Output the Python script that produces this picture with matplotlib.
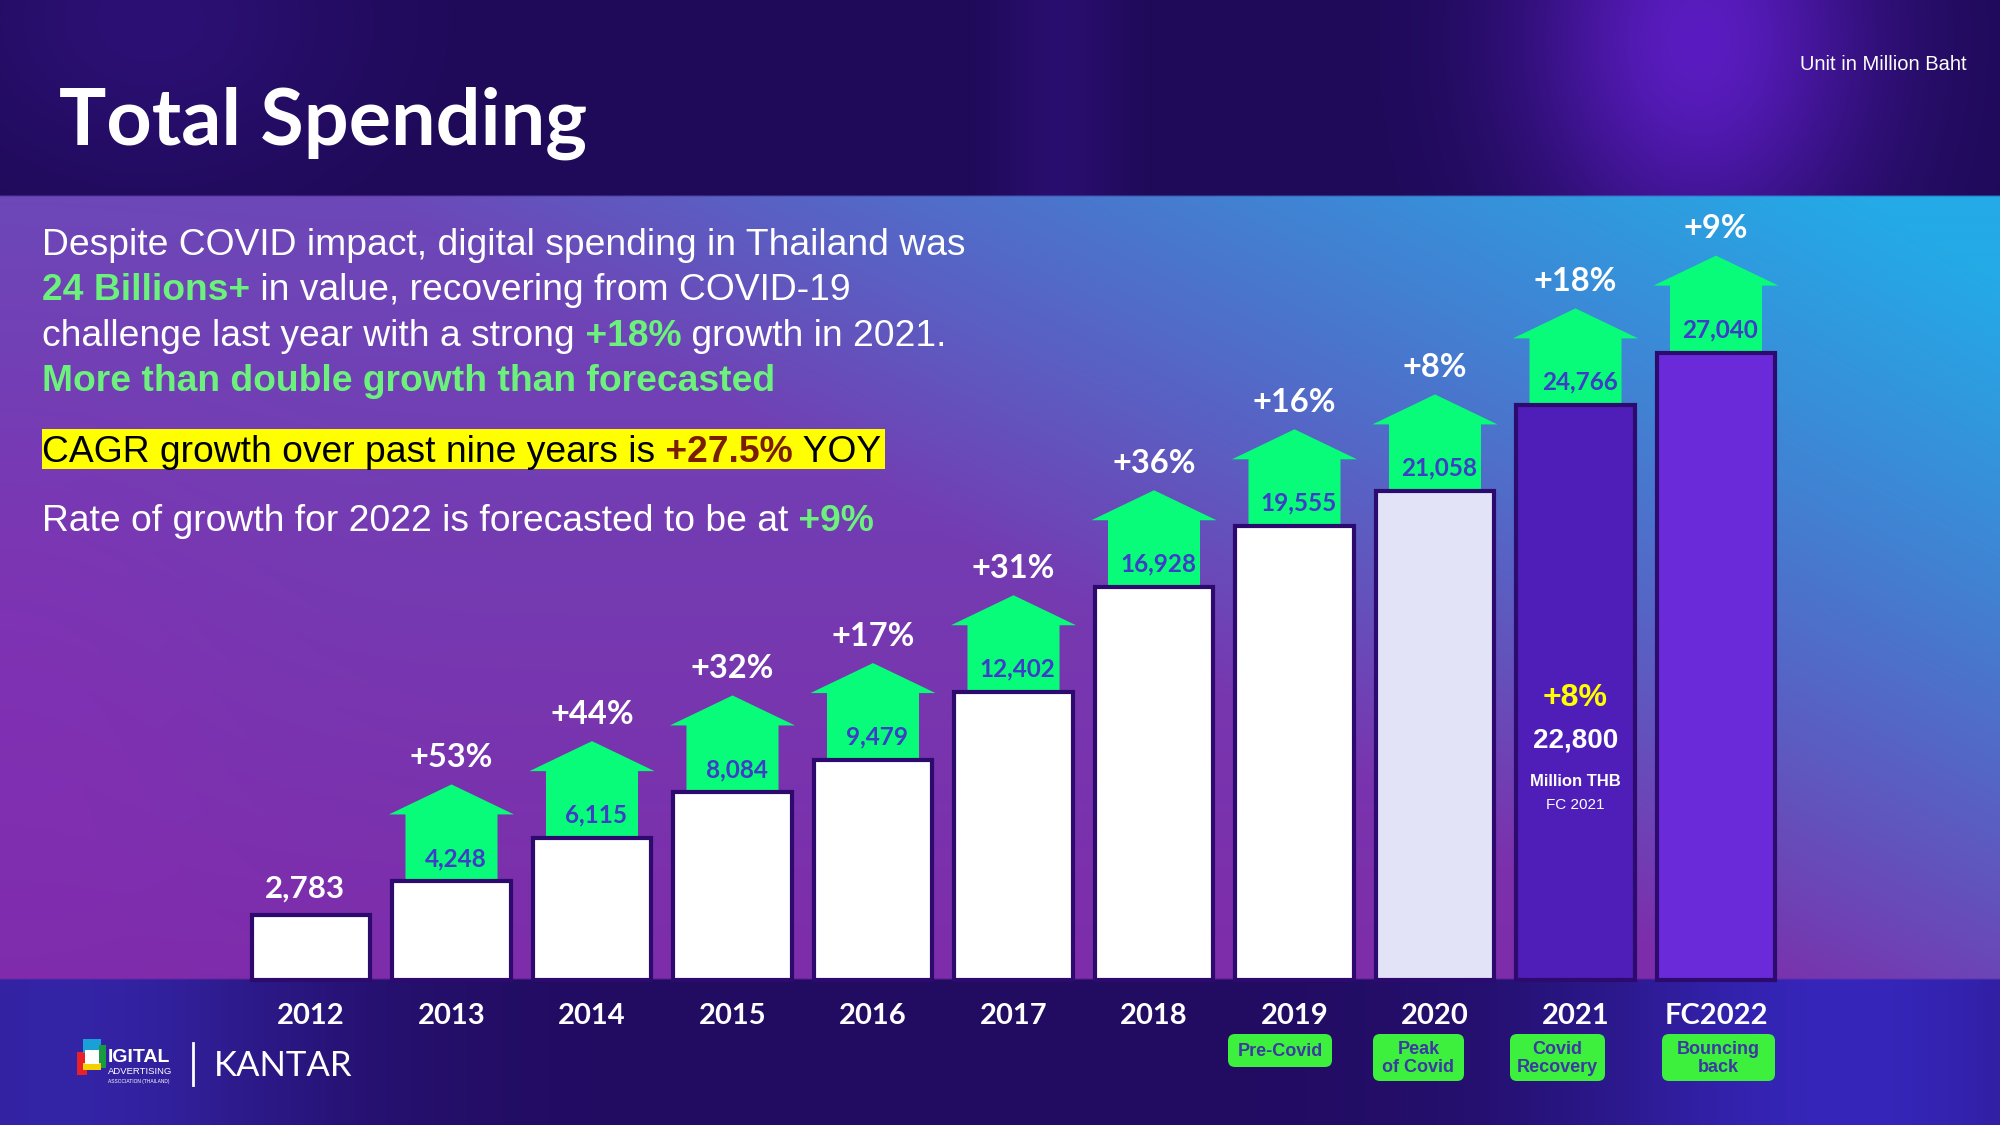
import numpy as np
import matplotlib
matplotlib.use("Agg")
import matplotlib.pyplot as plt
from matplotlib.patches import Polygon, Rectangle, FancyBboxPatch

# ---------------- data ----------------
years = ["2012", "2013", "2014", "2015", "2016", "2017", "2018", "2019", "2020", "2021", "FC2022"]
spending = [2783, 4248, 6115, 8084, 9479, 12402, 16928, 19555, 21058, 24766, 27040]
growth = ["", "+53%", "+44%", "+32%", "+17%", "+31%", "+36%", "+16%", "+8%", "+18%", "+9%"]
phase_years = ["2019", "2020", "2021", "FC2022"]
phase_labels = ["Pre-Covid", "Peak\nof Covid", "Covid\nRecovery", "Bouncing\nback"]
fc2021_growth = "+8%"
fc2021_value = 22800
bar_colors = ["#ffffff"] * 8 + ["#e3e3f7", "#4f1eb8", "#6b2ad9"]

W, H = 2000, 1125
fig = plt.figure(figsize=(20, 11.25), dpi=100)

# ---------------- background ----------------
def c(h):
    h = h.lstrip("#")
    return np.array([int(h[i:i + 2], 16) for i in (0, 2, 4)], float) / 255.0

h, w = 563, 1000
Y = np.linspace(0, H, h)[:, None, None]
X = np.linspace(0, W, w)[None, :, None]
# header
hb = c("#1e0a58") + 0 * X * Y
g1 = np.exp(-((X - 1700) / 170.0) ** 2 - ((Y - 40) / 220.0) ** 2)
g2 = np.exp(-((X - 150) / 200.0) ** 2 - ((Y - 20) / 150.0) ** 2)
g3 = np.exp(-((X - 1060) / 60.0) ** 2)
hb = hb + g1 * (c("#5a1cc0") - c("#1e0a58")) + 0.5 * g2 * (c("#3a1690") - c("#1e0a58")) \
    + 0.4 * g3 * (c("#3c1490") - c("#1e0a58"))
# middle
v = np.clip((Y - 195) / 785.0, 0, 1)
u = X / W
base = c("#6c48b8") * (1 - v) + c("#7e2caa") * v
wt = np.clip(1.35 * u - 0.25 - 0.9 * v, 0, 1)
mb = base * (1 - wt) + c("#24aae6") * wt
gl = np.exp(-((X - 0) / 250.0) ** 2 - ((Y - 700) / 300.0) ** 2)
mb = mb + 0.4 * gl * (c("#8a2ab8") - mb)
# bottom
bb = c("#220c62") + 0 * X * Y
gb1 = np.exp(-((X - 60) / 260.0) ** 2)
gb2 = np.exp(-((X - 1850) / 280.0) ** 2)
bb = bb + gb1 * (c("#3424a6") - c("#220c62")) + gb2 * (c("#3626ba") - c("#220c62"))
img = np.where(Y < 195, hb, np.where(Y < 980, mb, bb))
img = np.clip(img, 0, 1)

bg = fig.add_axes([0, 0, 1, 1])
bg.imshow(img, extent=(0, W, H, 0), aspect="auto", interpolation="bilinear")
bg.set_xlim(0, W)
bg.set_ylim(H, 0)
bg.axis("off")

# ---------------- chart axes ----------------
PITCH = 140.5      # pixels per category
X0 = 311           # pixel centre of first bar
BASE = 980         # baseline pixel row (from top)
UPP = 43.1         # data units per pixel

ax = fig.add_axes([0, 0, 1, 1])
ax.set_facecolor("none")
ax.set_xlim(-X0 / PITCH, (W - X0) / PITCH)
ax.set_ylim(-(H - BASE) * UPP, BASE * UPP)
ax.axis("off")

xs = np.arange(len(years))
ax.bar(xs, spending, width=0.84, color=bar_colors, edgecolor="#2c0a6e",
       linewidth=3, zorder=3)

SHAFT, HEAD = 67 * UPP, 30 * UPP
SW, HW = 0.655, 0.89
ARROW_C = "#08fc7a"
for i, (val, g) in enumerate(zip(spending, growth)):
    if g:
        pts = [(i - SW / 2, val), (i + SW / 2, val), (i + SW / 2, val + SHAFT),
               (i + HW / 2, val + SHAFT), (i, val + SHAFT + HEAD),
               (i - HW / 2, val + SHAFT), (i - SW / 2, val + SHAFT)]
        ax.add_patch(Polygon(pts, closed=True, facecolor=ARROW_C, edgecolor="none", zorder=2))
        ax.text(i + 0.03, val + 23 * UPP, f"{val:,}", ha="center", va="center",
                fontsize=17.5, fontweight="bold", family="Lato", color="#3d3dc6", zorder=4)
        ax.text(i, val + SHAFT + HEAD + 27 * UPP, g, ha="center", va="center",
                fontsize=23.5, fontweight="bold", family="Lato", color="white", zorder=4)
    else:
        ax.text(i - 0.04, val + 27 * UPP, f"{val:,}", ha="center", va="center",
                fontsize=22.5, fontweight="bold", family="Lato", color="white", zorder=4)

for i, yr in enumerate(years):
    ax.text(i, -36 * UPP, yr, ha="center", va="center", fontsize=21,
            fontweight="bold", family="Lato", color="white")

# forecast annotation inside the 2021 bar
i21 = years.index("2021")
ax.text(i21, (BASE - 698) * UPP, fc2021_growth, ha="center", va="center", fontsize=23,
        fontweight="bold", family="Liberation Sans", color="#ffff00", zorder=5)
ax.text(i21, (BASE - 741) * UPP, f"{fc2021_value:,}", ha="center", va="center", fontsize=20,
        fontweight="bold", family="Liberation Sans", color="white", zorder=5)
ax.text(i21, (BASE - 782) * UPP, "Million THB", ha="center", va="center", fontsize=12,
        fontweight="bold", family="Liberation Sans", color="white", zorder=5)
ax.text(i21, (BASE - 805) * UPP, "FC 2021", ha="center", va="center", fontsize=11,
        family="Liberation Sans", color="white", zorder=5)

# ---------------- overlay (pixel coordinates) ----------------
ov = fig.add_axes([0, 0, 1, 1])
ov.set_facecolor("none")
ov.set_xlim(0, W)
ov.set_ylim(H, 0)
ov.axis("off")

ov.text(59, 145, "Total Spending", fontsize=57, fontweight="bold", family="Lato",
        color="white", va="baseline", ha="left")
ov.text(1967, 65, "Unit in Million Baht", fontsize=14.5, family="Liberation Sans",
        color="white", va="center", ha="right")

renderer = fig.canvas.get_renderer()
GREEN = "#6cf27c"
BODY = 26.8


def rich(x, y, pieces, size=BODY):
    for txt, col, wgt in pieces:
        t = ov.text(x, y, txt, fontsize=size, fontweight=wgt, family="Liberation Sans",
                    color=col, va="baseline", ha="left", zorder=6)
        x += t.get_window_extent(renderer).width


rich(42, 255, [("Despite COVID impact, digital spending in Thailand was", "white", "normal")])
rich(42, 300, [("24 Billions+", GREEN, "bold"),
               (" in value, recovering from COVID-19", "white", "normal")])
rich(42, 346, [("challenge last year with a strong", "white", "normal"),
               (" +18%", GREEN, "bold"), (" growth in 2021.", "white", "normal")])
rich(42, 391, [("More than double growth than forecasted", GREEN, "bold")])
ov.add_patch(Rectangle((42, 429), 843, 40, facecolor="#ffff00", edgecolor="none", zorder=5))
rich(42, 462, [("CAGR growth over past nine years is", "black", "normal"),
               (" +27.5%", "#7a1e00", "bold"), (" YOY", "black", "normal")])
rich(42, 531, [("Rate of growth for 2022 is forecasted to be at", "white", "normal"),
               (" +9%", GREEN, "bold")])

# phase boxes
boxes = [(1228, 1034, 104, 33), (1373, 1034, 91, 47), (1510, 1034, 95, 47), (1662, 1034, 113, 47)]
for (bx, by, bw, bh), lab in zip(boxes, phase_labels):
    ov.add_patch(FancyBboxPatch((bx, by), bw, bh, boxstyle="round,pad=0,rounding_size=7",
                                facecolor="#3ef03e", edgecolor="none", zorder=5))
    ov.text(bx + bw / 2, by + bh / 2 + 1, lab, ha="center", va="center", fontsize=13,
            fontweight="bold", family=["Liberation Sans Narrow", "Liberation Sans"],
            color="#3b3aa0", linespacing=1.0, zorder=6)

# logos
ov.add_patch(Rectangle((77, 1052), 10, 23, facecolor="#e8202a", edgecolor="none", zorder=5))
ov.add_patch(Rectangle((83, 1039), 18, 14, facecolor="#1aa0d8", edgecolor="none", zorder=5))
ov.add_patch(Rectangle((99, 1045), 7, 23, facecolor="#1a9a40", edgecolor="none", zorder=5))
ov.add_patch(Rectangle((83, 1063), 18, 7, facecolor="#f4d000", edgecolor="none", zorder=5))
ov.add_patch(Rectangle((85, 1050), 14, 14, facecolor="white", edgecolor="none", zorder=6))
ov.text(108, 1058, "IGITAL", fontsize=14, fontweight="bold",
        family=["Liberation Sans Narrow", "Liberation Sans"], color="white", va="center", ha="left")
ov.text(108, 1071, "ADVERTISING", fontsize=6.8,
        family=["Liberation Sans Narrow", "Liberation Sans"], color="white", va="center", ha="left")
ov.text(108, 1082, "ASSOCIATION (THAILAND)", fontsize=3.5,
        family=["Liberation Sans Narrow", "Liberation Sans"], color="white", va="center", ha="left")
ov.plot([193, 193], [1043, 1085], color="white", lw=2)
ov.text(214, 1066, "KANTAR", fontsize=25, family="Lato", color="white", va="center", ha="left")

fig.savefig("out.png", dpi=100)
